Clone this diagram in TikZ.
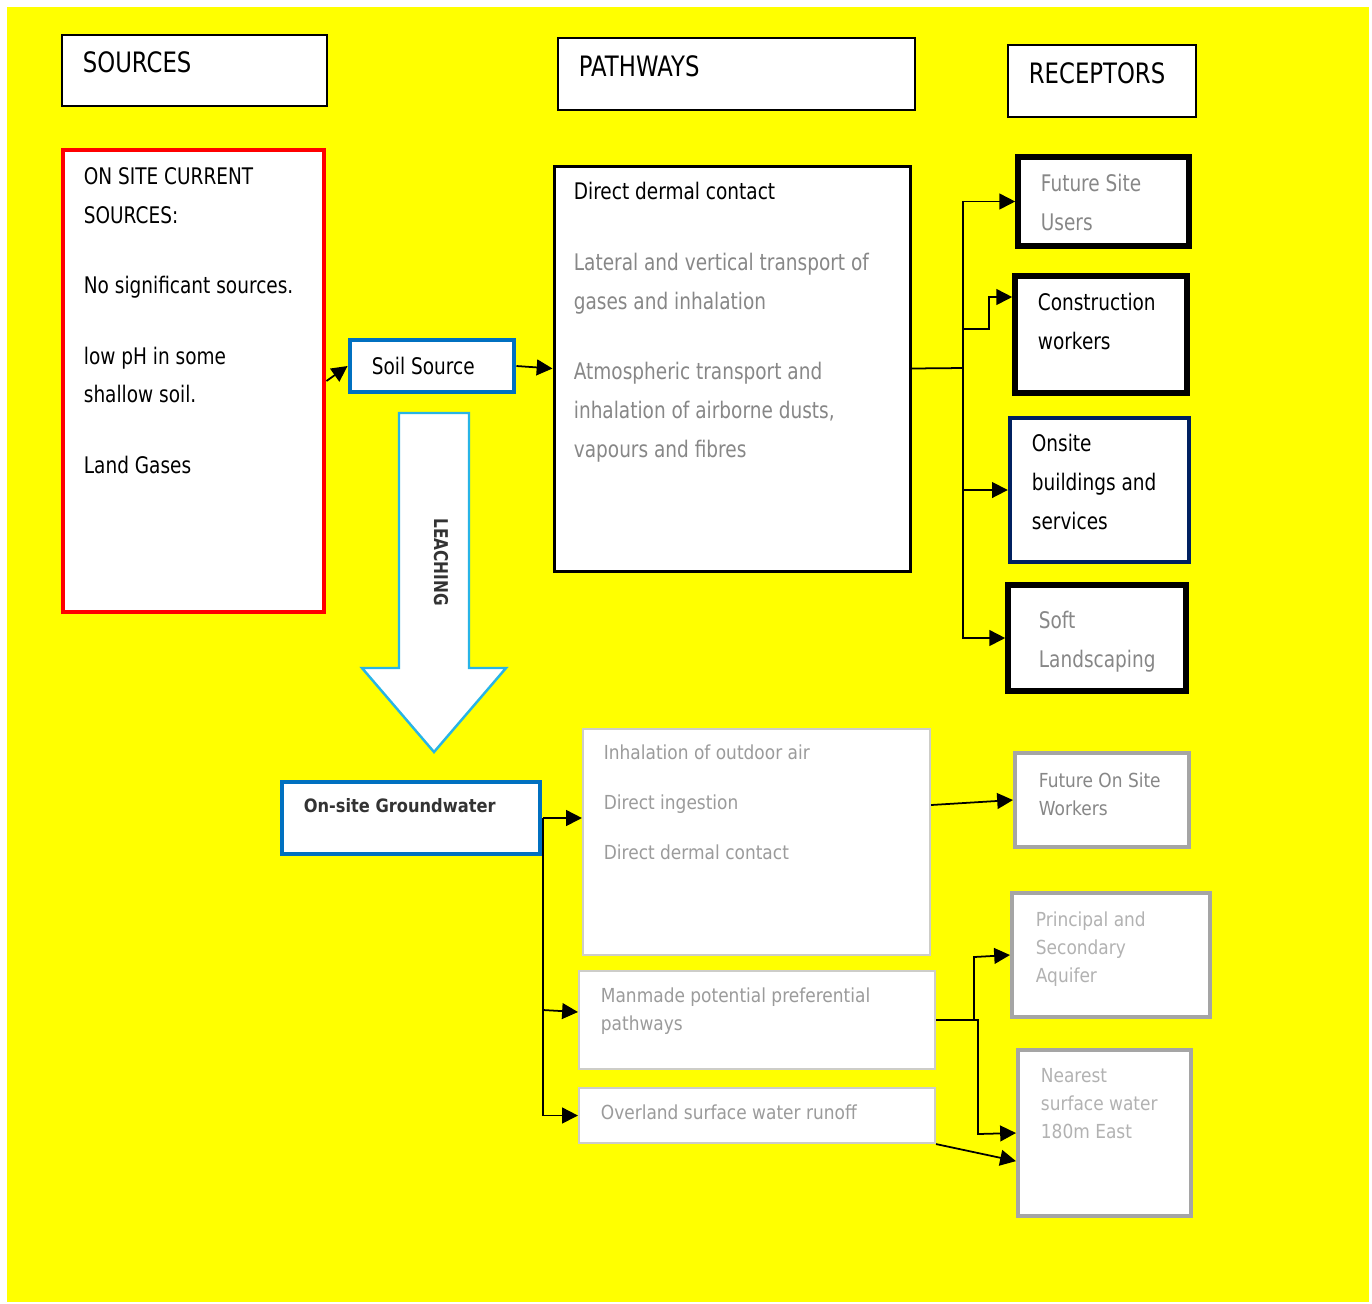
\documentclass[tikz,border=0pt]{standalone}
\usepackage{fontspec}
\setmainfont{DejaVu Sans}[FakeStretch=0.81]
\newfontfamily\lowfont{DejaVu Sans}[FakeStretch=0.88]
\usetikzlibrary{arrows.meta,fit,positioning}

\definecolor{yel}{RGB}{255,255,0}
\definecolor{blu}{RGB}{0,112,192}
\definecolor{navy}{RGB}{0,32,96}
\definecolor{cyn}{RGB}{40,180,230}
\definecolor{gtxt}{RGB}{135,135,135}
\definecolor{ltxt}{RGB}{155,155,155}
\definecolor{lbord}{RGB}{205,205,200}
\definecolor{gbord}{RGB}{165,165,165}

\tikzset{every path/.style={line width=1pt},
  box/.style={draw, fill=white, inner sep=0pt},
  txt/.style={anchor=north west, yshift=10pt, inner sep=0pt, align=left,
    font=\fontsize{13}{22.1}\selectfont, execute at begin node={\rule{0pt}{10pt}}},
  head/.style={anchor=base west, inner sep=0pt, font=\fontsize{16}{20}\selectfont},
  lowtxt/.style={anchor=north west, yshift=9pt, inner sep=0pt, align=left, text=ltxt,
    font=\lowfont\fontsize{11}{15.9}\selectfont, execute at begin node={\rule{0pt}{9pt}}},
  arr/.style={-{Triangle[length=9pt,width=9pt]}}
}

\begin{document}
\begin{tikzpicture}[x=0.02cm,y=-0.02cm]

\useasboundingbox (0,0) rectangle (1372,1303);
\fill[yel] (7,7) rectangle (1369,1302);

% headers
\node[box, line width=1pt, fit={(62,35) (327,106)}] (hsrc) {};
\node[box, line width=1pt, fit={(558,38) (915,110)}] (hpw) {};
\node[box, line width=1pt, fit={(1008,45) (1196,117)}] (hrec) {};
\node[head] (thsrc) at (82,72) {SOURCES};
\node[head] (thpw) at (578,76) {PATHWAYS};
\node[head] (threc) at (1028,83) {RECEPTORS};

% sources
\node[box, draw=red, line width=2.8pt, fit={(63,150) (324,612)}] (src) {};
\node[txt] (tsrc) at (83,184) {ON SITE CURRENT\\SOURCES:\\[18pt]No significant sources.\\[18pt]low pH in some\\shallow soil.\\[18pt]Land Gases};
\node[box, draw=blu, line width=2.8pt, fit={(350,340) (514,392)}] (soil) {};
\node[txt] (tsoil) at (371,374) {Soil Source};

% pathways
\node[box, line width=1.7pt, fit={(554,166) (910,571)}] (pw) {};
\node[txt] (tpw1) at (573,199) {Direct dermal contact};
\node[txt, text=gtxt] (tpw2) at (573,270) {Lateral and vertical transport of\\gases and inhalation\\[18pt]Atmospheric transport and\\inhalation of airborne dusts,\\vapours and fibres};

% receptors
\node[box, line width=3.2pt, fit={(1018,157) (1189,246)}] (fsu) {};
\node[txt, text=gtxt] (tfsu) at (1040,191) {Future Site\\Users};
\node[box, line width=3.2pt, fit={(1015,276) (1187,393)}] (cw) {};
\node[txt] (tcw) at (1037,310) {Construction\\workers};
\node[box, draw=navy, line width=2.5pt, fit={(1010,418) (1189,562)}] (osb) {};
\node[txt] (tosb) at (1031,451) {Onsite\\buildings and\\services};
\node[box, line width=3.2pt, fit={(1008,585) (1186,691)}] (soft) {};
\node[txt, text=gtxt] (tsoft) at (1038,628) {Soft\\Landscaping};

% leaching
\draw[cyn, line width=1.4pt, fill=white] (399,413) -- (469,413) -- (469,668) -- (506,668) -- (434,752) -- (362,668) -- (399,668) -- cycle;
\node[rotate=-90, inner sep=0pt, text=black!80, font=\bfseries\fontsize{10.8}{10.8}\selectfont] (tleach) at (441,562) {LEACHING};

% groundwater
\node[box, draw=blu, line width=2.8pt, fit={(282,782) (540,854)}] (gw) {};
\node[lowtxt, text=black!80, font=\lowfont\bfseries\fontsize{10.5}{15.9}\selectfont] (tgw) at (303,812) {On-site Groundwater};

\node[box, draw=lbord, line width=1.2pt, fit={(583,729) (930,955)}] (pa) {};
\node[lowtxt] (tpa) at (603,760) {Inhalation of outdoor air\\[12.5pt]Direct ingestion\\[12.5pt]Direct dermal contact};
\node[box, draw=lbord, line width=1.2pt, fit={(579,971) (935,1069)}] (pb) {};
\node[lowtxt] (tpb) at (600,1003) {Manmade potential preferential\\pathways};
\node[box, draw=lbord, line width=1.2pt, fit={(579,1088) (935,1143)}] (pc) {};
\node[lowtxt] (tpc) at (600,1119) {Overland surface water runoff};

\node[box, draw=gbord, line width=2.3pt, fit={(1015,753) (1189,847)}] (fow) {};
\node[lowtxt, text=gtxt] (tfow) at (1038,788) {Future On Site\\Workers};
\node[box, draw=gbord, line width=2.3pt, fit={(1012,893) (1210,1017)}] (paq) {};
\node[lowtxt, text=black!30] (tpaq) at (1035,927) {Principal and\\Secondary\\Aquifer};
\node[box, draw=gbord, line width=2.3pt, fit={(1018,1050) (1191,1216)}] (nsw) {};
\node[lowtxt, text=black!30] (tnsw) at (1040,1083) {Nearest\\surface water\\180m East};

% connectors top
\draw[arr] (src.east) -- (soil.west);
\draw[arr] (soil.east) -- (pw.west);
\coordinate (jr) at (963,368);
\draw (pw.east) -- (jr);
\draw[arr] (jr) |- (fsu.west);
\draw[arr] (jr |- 0,329) -- (989,329) |- (cw.north west |- 0,297);
\draw[arr] (jr) |- (osb.west);
\draw[arr] (jr) |- (soft.west);

% connectors bottom
\coordinate (jg) at (543,818);
\draw[arr] (jg) -- (jg -| pa.west);
\draw[arr] (jg |- 0,1010) -- (pb.west |- 0,1012);
\draw[arr] (jg) |- (pc.west);
\draw[arr] (pa.east |- 0,805) -- (fow.west);
\draw[arr] (pb.east) -| (974,957) -- (paq.west);
\draw[arr] (pb.east) -| (978,1134) -- (nsw.west);
\draw[arr] (pc.south east) -- ([yshift=-16pt]nsw.west);

\end{tikzpicture}
\end{document}
